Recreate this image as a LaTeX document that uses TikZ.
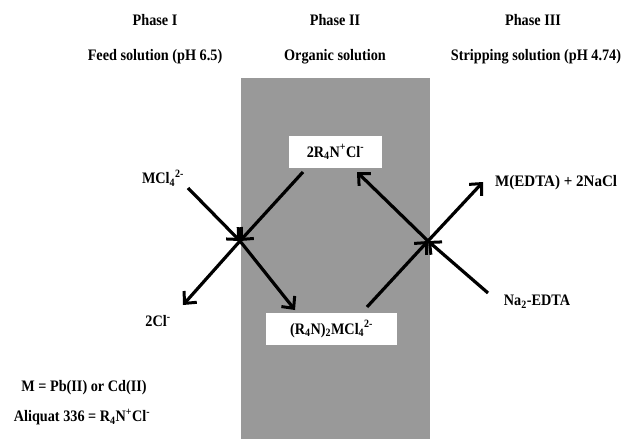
\documentclass[tikz,border=0pt]{standalone}
\usepackage{fontspec}
\setmainfont{Liberation Serif}[FakeStretch=0.89]
\newfontfamily\widefont{Liberation Serif}[FakeStretch=0.94]
\usetikzlibrary{arrows.meta}
\definecolor{phasegray}{RGB}{153,153,153}
\tikzset{
  lbl/.style={font=\fontsize{16}{18}\selectfont\bfseries, inner sep=0pt},
  specbox/.style={fill=white, draw=none, minimum height=32pt, inner sep=0pt, font=\fontsize{16}{18}\selectfont\bfseries},
  flow/.style={line width=3.2pt, -{Straight Barb[length=9pt,width=17pt,line width=3pt]}}
}
\begin{document}
\begin{tikzpicture}[x=1pt,y=-1pt]
\useasboundingbox (0,0) rectangle (622,439);
\fill[phasegray] (241,78) rectangle (430,439);
\node[lbl] (p1) at (155,20) {Phase I};
\node[lbl] (p2) at (335,20) {Phase II};
\node[lbl] (p3) at (533,20) {Phase III};
\node[lbl] (s1) at (155,57) {Feed solution (pH 6.5)};
\node[lbl] (s2) at (335,57) {Organic solution};
\node[lbl] (s3) at (536,57) {Stripping solution (pH 4.74)};
\node[specbox, minimum width=93pt] (top) at (335.5,152) {2R\textsubscript{4}N\textsuperscript{+}Cl\textsuperscript{-}};
\node[specbox, minimum width=131pt] (bot) at (331.5,329) {(R\textsubscript{4}N)\textsubscript{2}MCl\textsubscript{4}\textsuperscript{2-}};
\node[lbl] (mcl) at (163,178) {MCl\textsubscript{4}\textsuperscript{2-}};
\node[lbl] (cl) at (158,321) {2Cl\textsuperscript{-}};
\node[lbl, anchor=west] (medta) at (495,183) {\widefont M(EDTA) + 2NaCl};
\node[lbl] (na) at (537,302) {Na\textsubscript{2}-EDTA};
\node[lbl] (m1) at (84,388) {M = Pb(II) or Cd(II)};
\node[lbl] (m2) at (82,417) {Aliquat 336 = R\textsubscript{4}N\textsuperscript{+}Cl\textsuperscript{-}};
\coordinate (xl) at (240,241);
\coordinate (xr) at (428,241);
\coordinate (a1) at (188,188);
\coordinate (a2) at (295,310);
\coordinate (a3) at (303,172);
\coordinate (a4) at (183,305);
\coordinate (b1) at (367,307);
\coordinate (b2) at (357,172);
\coordinate (b3) at (488,293);
\coordinate (b4) at (483,182);
\draw[flow] (a1) -- (xl);
\draw[flow] (xl) -- (a2);
\draw[flow] (a3) -- (xl);
\draw[flow] (xl) -- (a4);
\draw[flow] (b1) -- (xr);
\draw[flow] (xr) -- (b2);
\draw[flow] (b3) -- (xr);
\draw[flow] (xr) -- (b4);
\end{tikzpicture}
\end{document}
